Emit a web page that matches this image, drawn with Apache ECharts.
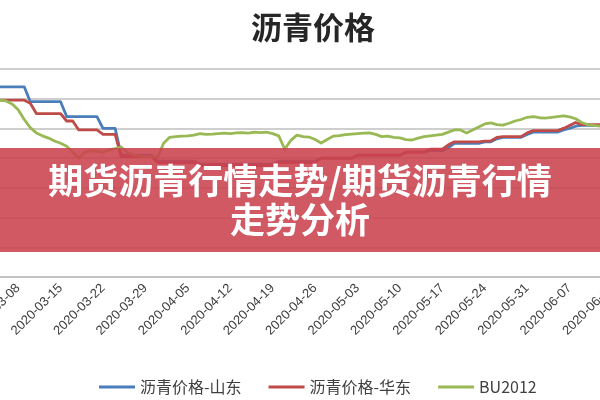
<!DOCTYPE html>
<html>
<head>
<meta charset="utf-8">
<script src="https://cdn.jsdelivr.net/npm/echarts@6/dist/echarts.min.js"></script>
<style>html,body{margin:0;padding:0;background:#fff}#c{width:600px;height:400px}</style>
</head>
<body>
<div id="c"></div>
<script>
var dates = [
'2020-03-05','2020-03-06','2020-03-07','2020-03-08','2020-03-09','2020-03-10','2020-03-11','2020-03-12','2020-03-13','2020-03-14',
'2020-03-15','2020-03-16','2020-03-17','2020-03-18','2020-03-19','2020-03-20','2020-03-21','2020-03-22','2020-03-23','2020-03-24',
'2020-03-25','2020-03-26','2020-03-27','2020-03-28','2020-03-29','2020-03-30','2020-03-31','2020-04-01','2020-04-02','2020-04-03',
'2020-04-04','2020-04-05','2020-04-06','2020-04-07','2020-04-08','2020-04-09','2020-04-10','2020-04-11','2020-04-12','2020-04-13',
'2020-04-14','2020-04-15','2020-04-16','2020-04-17','2020-04-18','2020-04-19','2020-04-20','2020-04-21','2020-04-22','2020-04-23',
'2020-04-24','2020-04-25','2020-04-26','2020-04-27','2020-04-28','2020-04-29','2020-04-30','2020-05-01','2020-05-02','2020-05-03',
'2020-05-04','2020-05-05','2020-05-06','2020-05-07','2020-05-08','2020-05-09','2020-05-10','2020-05-11','2020-05-12','2020-05-13',
'2020-05-14','2020-05-15','2020-05-16','2020-05-17','2020-05-18','2020-05-19','2020-05-20','2020-05-21','2020-05-22','2020-05-23',
'2020-05-24','2020-05-25','2020-05-26','2020-05-27','2020-05-28','2020-05-29','2020-05-30','2020-05-31','2020-06-01','2020-06-02',
'2020-06-03','2020-06-04','2020-06-05','2020-06-06','2020-06-07','2020-06-08','2020-06-09','2020-06-10','2020-06-11','2020-06-12',
'2020-06-13','2020-06-14'];

var shandong = [
3080,3080,3080,3080,3080, 2980,2980,2980,2980,2980,2980, 2880,2880,2880,2880,2880,2880, 2800,2800,2800,
2620,2620,2620,2620,2620,2620, 2580,2580,2580,2580,2580,2580,2580,
2560,2560,2560,2560,2560,2560,2560,2560,2560,2560,2560,2560,2560,
2580,2580,2580,2580,2580,2580,2580, 2600,2600,2600,2600,2600,2600,
2620,2620,2620,2620,2620,2620,2620,2620, 2640,2640,2640,2640, 2650,2650,2650, 2670,
2700,2700,2700,2700,2700, 2710,2710, 2730, 2740,2740,2740,2740, 2760, 2775,2775,2775,2775,2775,
2790, 2800, 2815, 2820,2820,2820,2820,2820,2820];

var huadong = [
2990,2990,2990,2990,2990, 2970, 2900,2900,2900,2900,2900, 2850,2850, 2790,2790,2790,2790, 2760,2760,2760,
2610,2610,2610,2610,2610,2610, 2570,2570,2570,2570,2570,2570,2570,
2550,2550,2550,2550,2550,2550,2550,2550,2550,2550,2550,2550,2550,
2570,2570,2570,2570,2570,2570,2570, 2600,2600,2600,2600,2600,2600,
2620,2620,2620,2620,2620,2620,2620,2620, 2640,2640,2640,2640, 2660,2660,2660, 2690,
2710,2710,2710,2710,2710, 2715,2715, 2740, 2745,2745,2745,2745, 2770, 2785,2785,2785,2785,2785,
2800, 2820, 2840, 2825,2825,2825,2825,2825,2825];

var bu2012 = [
2990,2985,2965,2925,2860,2805,2770,2750,2735,2715,
2700,2680,2640,2600,2640,2650,2645,2640,2655,2665,
2675,2640,2620,2615,2610,2612,2605,2700,2740,2745,
2748,2750,2755,2765,2760,2762,2765,2768,2765,2770,
2772,2768,2775,2772,2775,2765,2750,2660,2720,2755,
2745,2742,2725,2702,2725,2748,2752,2758,2762,2765,
2768,2770,2760,2745,2748,2740,2736,2725,2722,2735,
2745,2750,2755,2760,2775,2790,2790,2770,2790,2810,
2830,2837,2825,2822,2835,2850,2860,2875,2880,2872,
2870,2875,2880,2885,2878,2865,2840,2825,2820,2815,
2815,2812];

var seriesNames = ['沥青价格-山东','沥青价格-华东','BU2012'];
var seriesColors = ['#4a7ebb','#be4b48','#98b954'];
var chartTitle = '沥青价格';
var bannerLines = ['期货沥青行情走势/期货沥青行情','走势分析'];

var chart = echarts.init(document.getElementById('c'), null, {renderer:'canvas'});
var cjk = '"Noto Sans CJK SC", "Noto Sans", sans-serif';
var dataSets = [shandong, huadong, bu2012];
chart.setOption({
  animation: false,
  backgroundColor: '#ffffff',
  title: {
    text: chartTitle, left: 246, top: 7,
    textStyle: {fontSize: 31, fontWeight: 'bold', color: '#262626', fontFamily: cjk}
  },
  legend: {
    left: 94, top: 374, itemGap: 27, itemWidth: 36, itemHeight: 3, icon: 'rect',
    textStyle: {fontSize: 16, color: '#404040', fontFamily: cjk},
    data: seriesNames
  },
  grid: {left: 0, right: -12, top: 69, bottom: 123, containLabel: false, outerBoundsMode: 'none'},
  xAxis: {
    type: 'category', data: dates, boundaryGap: false,
    axisLine: {lineStyle: {color: '#bfbfbf', width: 1.5}},
    axisTick: {show: false},
    axisLabel: {
      rotate: 45, margin: 9, fontSize: 13, color: '#404040', fontFamily: '"Liberation Sans", Arial, sans-serif',
      interval: function (i) { return (i - 3) % 7 === 0; }
    },
    splitLine: {show: false}
  },
  yAxis: {
    type: 'value', min: 1800, max: 3200, interval: 200,
    axisLabel: {show: false}, axisLine: {show: false}, axisTick: {show: false},
    splitLine: {lineStyle: {color: '#bfbfbf', width: 1.5}}
  },
  series: seriesNames.map(function (n, k) {
    return {
      name: n, type: 'line', data: dataSets[k], showSymbol: false, symbol: 'none',
      lineStyle: {color: seriesColors[k], width: 2.8, join: 'round'},
      itemStyle: {color: seriesColors[k]}
    };
  }),
  graphic: [
    {type: 'rect', z: 100, shape: {x: 0, y: 148, width: 600, height: 104},
     style: {fill: 'rgba(203,66,78,0.88)'}},
    {type: 'text', z: 101, x: 300, y: 181,
     style: {text: bannerLines[0], fill: '#ffffff', fontSize: 35, fontWeight: 'bold', fontFamily: cjk,
             align: 'center', verticalAlign: 'middle'}},
    {type: 'text', z: 101, x: 300, y: 220,
     style: {text: bannerLines[1], fill: '#ffffff', fontSize: 35, fontWeight: 'bold', fontFamily: cjk,
             align: 'center', verticalAlign: 'middle'}}
  ]
});
</script>
</body>
</html>
